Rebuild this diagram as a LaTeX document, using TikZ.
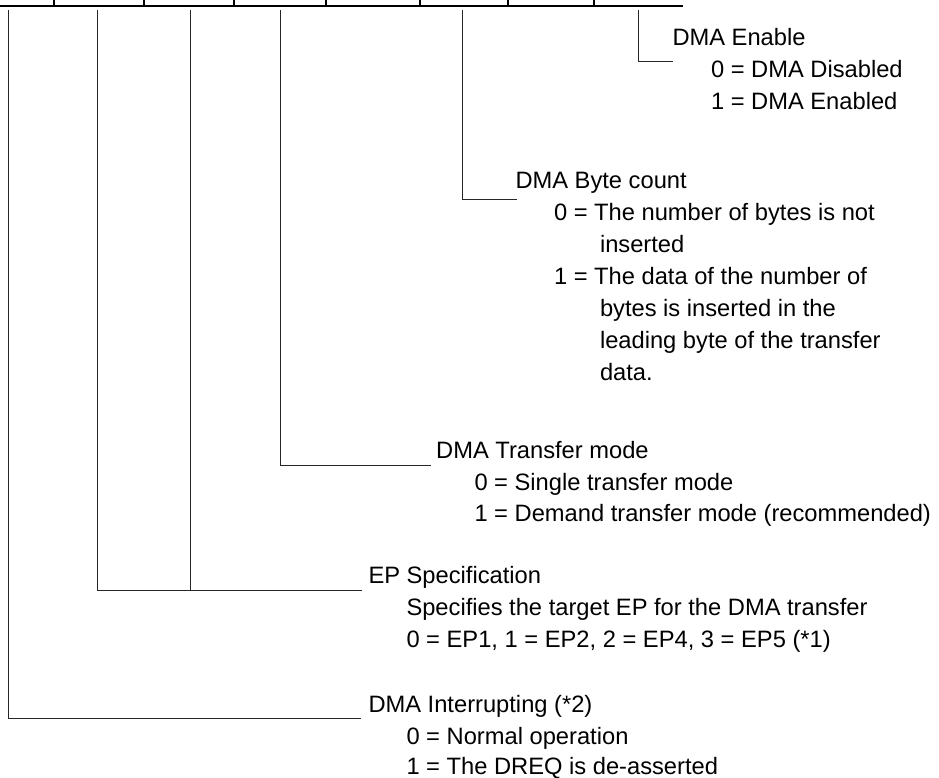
\documentclass[tikz,border=0pt]{standalone}
\usepackage{fontspec}
\setmainfont{Liberation Sans}
\begin{document}
\begin{tikzpicture}[x=1pt,y=-1pt,
  font=\fontsize{23.7}{28}\selectfont,
  txt/.style={anchor=base west,inner sep=0pt,outer sep=0pt},
  lead/.style={line width=0.9pt,black!85},
  reg/.style={line width=2pt,black}]
\useasboundingbox (0,0) rectangle (939,778);
% register row
\coordinate (rl) at (0,6.5);
\coordinate (rr) at (683,6.5);
\draw[reg] (rl) -- (rr);
\foreach \x [count=\i] in {54,144,234,326,420,508,594}{
  \coordinate (tk\i a) at (\x,0);
  \coordinate (tk\i b) at (\x,6.5);
  \draw[reg] (tk\i a) -- (tk\i b);
}
% bit 0: DMA Enable
\coordinate (t0) at (638.7,10.5);
\coordinate (c0) at (638.7,61.7);
\coordinate (e0) at (673,61.7);
\draw[lead] (t0) -- (c0) -- (e0);
\node[txt] (en) at (672.5,45.7) {DMA Enable};
\node[txt] (en0) at (711,77.7) {0 = DMA Disabled};
\node[txt] (en1) at (711,109.3) {1 = DMA Enabled};
% bit 2: DMA Byte count
\coordinate (t2) at (462.7,10.5);
\coordinate (c2) at (462.7,199.3);
\coordinate (e2) at (517,199.3);
\draw[lead] (t2) -- (c2) -- (e2);
\node[txt] (bc) at (515.5,189) {DMA Byte count};
\node[txt] (bc0) at (554,220.7) {0 = The number of bytes is not};
\node[txt] (bc0b) at (600,252.3) {inserted};
\node[txt] (bc1) at (554,284.3) {1 = The data of the number of};
\node[txt] (bc1b) at (600,316) {bytes is inserted in the};
\node[txt] (bc1c) at (600,348) {leading byte of the transfer};
\node[txt] (bc1d) at (600,380) {data.};
% bit 4: DMA Transfer mode
\coordinate (t4) at (280.7,10.5);
\coordinate (c4) at (280.7,465.7);
\coordinate (e4) at (431,465.7);
\draw[lead] (t4) -- (c4) -- (e4);
\node[txt] (tm) at (436.2,458.3) {DMA Transfer mode};
\node[txt] (tm0) at (474.5,490) {0 = Single transfer mode};
\node[txt] (tm1) at (474.5,521.7) {1 = Demand transfer mode (recommended)};
% bits 5-6: EP Specification
\coordinate (t5) at (190,10.5);
\coordinate (c5) at (190,590);
\coordinate (t6) at (97.7,10.5);
\coordinate (c6) at (97.7,590);
\coordinate (e5) at (361.7,590);
\draw[lead] (t5) -- (c5);
\draw[lead] (t6) -- (c6) -- (e5);
\node[txt] (ep) at (368.5,583.3) {EP Specification};
\node[txt] (ep1) at (406.5,615.7) {Specifies the target EP for the DMA transfer};
\node[txt] (ep2) at (406.5,647.7) {0 = EP1, 1 = EP2, 2 = EP4, 3 = EP5 (*1)};
% bit 7: DMA Interrupting
\coordinate (t7) at (8.3,10.5);
\coordinate (c7) at (8.3,718.3);
\coordinate (e7) at (361,718.3);
\draw[lead] (t7) -- (c7) -- (e7);
\node[txt] (di) at (368.5,712.3) {DMA Interrupting (*2)};
\node[txt] (di0) at (406.5,744.3) {0 = Normal operation};
\node[txt] (di1) at (406.5,774.2) {1 = The DREQ is de-asserted};
\end{tikzpicture}
\end{document}
